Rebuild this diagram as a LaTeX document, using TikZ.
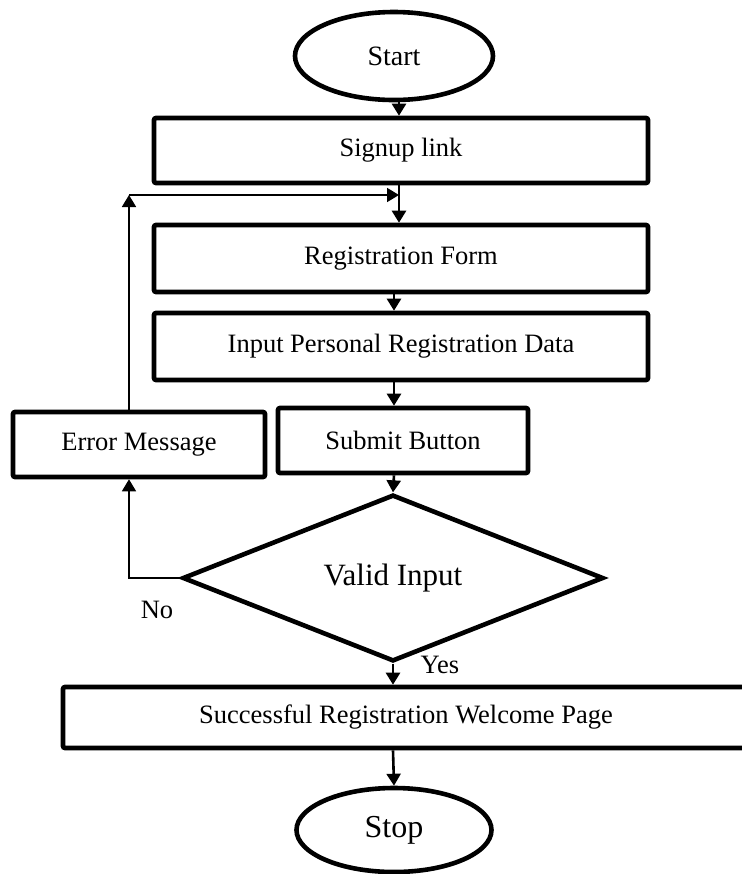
\documentclass[tikz,border=0pt]{standalone}
\usepackage{fontspec}
\setmainfont{Liberation Serif}
\usetikzlibrary{shapes.geometric,arrows.meta}

\tikzset{
  box/.style={draw, line width=2.3pt, rectangle, rounded corners=1pt, inner sep=0pt, font=\fontsize{13.25}{16}\selectfont},
  term/.style={draw, line width=2.3pt, ellipse, inner sep=0pt, font=\fontsize{14}{17}\selectfont},
  decide/.style={draw, line width=2.3pt, diamond, inner sep=0pt, font=\fontsize{15.5}{18}\selectfont},
  arr/.style={line width=1.3pt, -{Triangle[length=6pt,width=7pt]}},
  backarr/.style={line width=0.9pt, -{Triangle[length=6pt,width=7pt]}},
  lbl/.style={font=\fontsize{13.25}{16}\selectfont}
}

\begin{document}
\begin{tikzpicture}[x=0.5pt, y=-0.5pt] % one unit = one pixel of the reference
  \useasboundingbox (0,0) rectangle (742,874);

  % columns of the arrows
  \coordinate (colA) at (399,0);
  \coordinate (colB) at (394,0);
  \coordinate (loop) at (129,0);
  \coordinate (corner) at (129,195);

  % Terminals
  \node[term, minimum width=99pt, minimum height=44pt] (start) at (394,56) {Start};
  \node[term, minimum width=97.5pt, minimum height=42pt, font=\fontsize{16}{19}\selectfont] (stop) at (394,830) {Stop};

  % Process boxes
  \node[box, minimum width=247pt, minimum height=32.5pt] (signup) at (401,150.5) {Signup link};
  \node[box, minimum width=247pt, minimum height=33.5pt] (regform) at (401,258.5) {Registration Form};
  \node[box, minimum width=247pt, minimum height=33.5pt] (input) at (401,346.5) {Input Personal Registration Data};
  \node[box, minimum width=125pt, minimum height=32.5pt] (submit) at (403,440.5) {Submit Button};
  \node[box, minimum width=126pt, minimum height=32.5pt] (error) at (139,444.5) {Error Message};

  % Decision
  \node[decide, minimum width=210.5pt, minimum height=74.5pt] (valid) at (393,578) {Valid Input};

  % Result page (runs off the right edge)
  \node[box, minimum width=343pt, minimum height=30.5pt] (success) at (406,717.5) {Successful Registration Welcome Page};

  % Main flow
  \draw[arr] (start.south -| colA) -- (signup.north -| colA);
  \draw[arr] (signup.south -| colA) -- (regform.north -| colA);
  \draw[arr] (regform.south -| colB) -- (input.north -| colB);
  \draw[arr] (input.south -| colB) -- (submit.north -| colB);
  \draw[arr] (submit.south -| colB) -- (valid.north);
  \draw[arr] (valid.south) -- (valid.south |- success.north);
  \draw[arr] (success.south -| valid.south) -- (stop.north);

  % No branch and loop back
  \draw[backarr] (valid.west) -- (valid.west -| loop) -- (error.south -| loop);
  \draw[backarr] (error.north -| loop) -- (corner);
  \draw[backarr] (corner) -- (corner -| colA);

  % Labels
  \node[lbl] (no) at (157,610) {No};
  \node[lbl] (yes) at (440,665) {Yes};
\end{tikzpicture}
\end{document}
